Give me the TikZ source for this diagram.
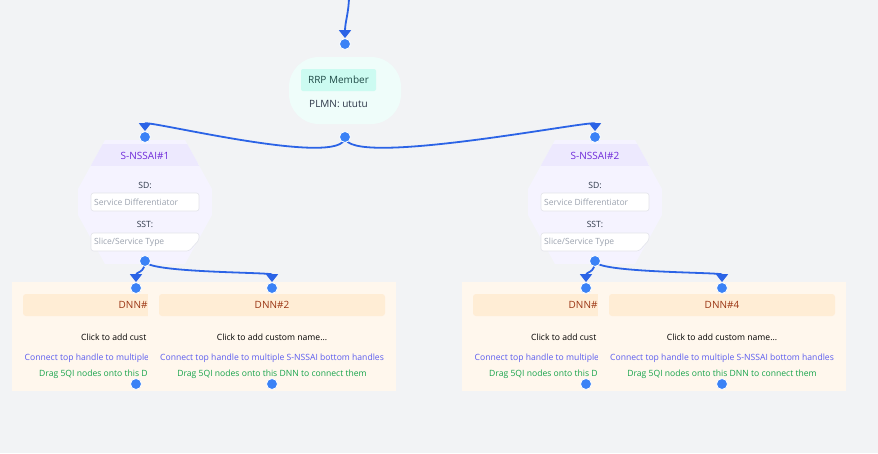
\documentclass[tikz,border=0pt]{standalone}
\usepackage{fontspec}
\setmainfont{Open Sans}
\usetikzlibrary{arrows.meta}

\definecolor{canvas}{HTML}{F2F3F5}
\definecolor{edgeblue}{HTML}{2B63E6}
\definecolor{handleblue}{HTML}{3B82F6}
\definecolor{rrpbg}{HTML}{EFFDFA}
\definecolor{rrplabel}{HTML}{CCFBF1}
\definecolor{rrptext}{HTML}{1E4A46}
\definecolor{darktext}{HTML}{2D3748}
\definecolor{snbody}{HTML}{F5F3FF}
\definecolor{snband}{HTML}{EDE9FE}
\definecolor{sntitle}{HTML}{6D28D9}
\definecolor{fieldline}{HTML}{E3E5EA}
\definecolor{hinttext}{HTML}{9CA3AF}
\definecolor{dnnbg}{HTML}{FFF7ED}
\definecolor{dnnband}{HTML}{FFEDD5}
\definecolor{dnntitle}{HTML}{9A3412}
\definecolor{connecttext}{HTML}{5B5CEF}
\definecolor{dragtext}{HTML}{16A34A}

\begin{document}
\begin{tikzpicture}[x=1pt,y=-1pt,
    edge/.style={draw=edgeblue,line width=1.8pt,-{Triangle[width=12pt,length=8pt]}},
    handle/.style={circle,fill=handleblue,draw=white,line width=0.8pt,minimum size=11pt,inner sep=0pt},
    title/.style={font=\fontsize{10}{12}\selectfont,inner sep=0pt},
    small/.style={font=\fontsize{8.6}{10}\selectfont,inner sep=0pt},
    hint/.style={font=\fontsize{8.5}{10}\selectfont,inner sep=0pt,anchor=west,text=hinttext},
    field/.style={draw=fieldline,fill=white,line width=0.6pt,rounded corners=2.5pt}]
	\fill[canvas] (0,0) rectangle (878,453);
	\useasboundingbox (0,0) rectangle (878,453);
	% RRP member
	\fill[rrpbg,rounded corners=30pt] (289,57) rectangle (401,124);
	\fill[rrplabel,rounded corners=2pt] (301,69) rectangle (376,91);
	\node[title,text=rrptext] (rrp) at (338.5,80) {RRP Member};
	\node[title,text=darktext] (plmn) at (338.5,104) {PLMN: ututu};
	% S-NSSAI#1
	\begin{scope}
		\clip (105,140) -- (185,140) -- (212,189) -- (212,215) -- (185,264) -- (105,264) -- (78,215) -- (78,189) -- cycle;
		\fill[snbody] (78,140) rectangle (212,264);
		\fill[snband] (91,144) rectangle (199,166);
	\end{scope}
	\node[title,text=sntitle] (sn1) at (145,155.5) {S-NSSAI\#1};
	\node[small,text=darktext] (sn1-sd) at (145,185) {SD:};
	\draw[field] (91,193) rectangle (199,211);
	\node[hint] (sn1-sdhint) at (94,202) {Service Differentiator};
	\node[small,text=darktext] (sn1-sst) at (145,224) {SST:};
	\draw[field] (91,233) -- (199,233) -- (199,240) -- (189,251) -- (91,251) -- cycle;
	\node[hint] (sn1-ssthint) at (94,242) {Slice/Service Type};
	% S-NSSAI#2
	\begin{scope}
		\clip (555,140) -- (635,140) -- (662,189) -- (662,215) -- (635,264) -- (555,264) -- (528,215) -- (528,189) -- cycle;
		\fill[snbody] (528,140) rectangle (662,264);
		\fill[snband] (541,144) rectangle (649,166);
	\end{scope}
	\node[title,text=sntitle] (sn2) at (595,155.5) {S-NSSAI\#2};
	\node[small,text=darktext] (sn2-sd) at (595,185) {SD:};
	\draw[field] (541,193) rectangle (649,211);
	\node[hint] (sn2-sdhint) at (544,202) {Service Differentiator};
	\node[small,text=darktext] (sn2-sst) at (595,224) {SST:};
	\draw[field] (541,233) -- (649,233) -- (649,240) -- (639,251) -- (541,251) -- cycle;
	\node[hint] (sn2-ssthint) at (544,242) {Slice/Service Type};
	% DNN#1, half hidden under DNN#2
	\fill[dnnbg] (12,282) rectangle (260,391);
	\begin{scope}
		\clip (12,282) rectangle (148,391);
		\fill[dnnband,rounded corners=3pt] (23,294) rectangle (249,316);
		\node[title,text=dnntitle,anchor=west] (dnn1) at (118.5,305) {DNN\#};
		\node[small,text=black,anchor=west] (dnn1-name) at (81,337) {Click to add cust};
		\node[small,text=connecttext,anchor=west] (dnn1-hint) at (24.5,358) {Connect top handle to multiple};
		\node[small,text=dragtext,anchor=west] (dnn1-drag) at (39,374) {Drag 5QI nodes onto this D};
	\end{scope}
	% DNN#2
	\fill[dnnbg] (148,282) rectangle (396,391);
	\fill[dnnband,rounded corners=3pt] (159,294) rectangle (385,316);
	\node[title,text=dnntitle] (dnn2) at (272,305) {DNN\#2};
	\node[small,text=black] (dnn2-name) at (272,337) {Click to add custom name...};
	\node[small,text=connecttext] (dnn2-hint) at (272,358) {Connect top handle to multiple S-NSSAI bottom handles};
	\node[small,text=dragtext] (dnn2-drag) at (272,374) {Drag 5QI nodes onto this DNN to connect them};
	% DNN#3, half hidden under DNN#4
	\fill[dnnbg] (462,282) rectangle (710,391);
	\begin{scope}
		\clip (462,282) rectangle (598,391);
		\fill[dnnband,rounded corners=3pt] (473,294) rectangle (699,316);
		\node[title,text=dnntitle,anchor=west] (dnn3) at (568.5,305) {DNN\#};
		\node[small,text=black,anchor=west] (dnn3-name) at (531,337) {Click to add cust};
		\node[small,text=connecttext,anchor=west] (dnn3-hint) at (474.5,358) {Connect top handle to multiple};
		\node[small,text=dragtext,anchor=west] (dnn3-drag) at (489,374) {Drag 5QI nodes onto this D};
	\end{scope}
	% DNN#4
	\fill[dnnbg] (598,282) rectangle (846,391);
	\fill[dnnband,rounded corners=3pt] (609,294) rectangle (835,316);
	\node[title,text=dnntitle] (dnn4) at (722,305) {DNN\#4};
	\node[small,text=black] (dnn4-name) at (722,337) {Click to add custom name...};
	\node[small,text=connecttext] (dnn4-hint) at (722,358) {Connect top handle to multiple S-NSSAI bottom handles};
	\node[small,text=dragtext] (dnn4-drag) at (722,374) {Drag 5QI nodes onto this DNN to connect them};
	% handles
	\node[handle] (rrp-in) at (345,44) {};
	\node[handle] (rrp-out) at (345,137) {};
	\node[handle] (sn1-in) at (145,137) {};
	\node[handle] (sn1-out) at (145,261) {};
	\node[handle] (sn2-in) at (595,137) {};
	\node[handle] (sn2-out) at (595,261) {};
	\node[handle] (dnn1-in) at (136,288) {};
	\node[handle] (dnn1-out) at (136,384) {};
	\node[handle] (dnn2-in) at (272,288) {};
	\node[handle] (dnn2-out) at (272,384) {};
	\node[handle] (dnn3-in) at (586,288) {};
	\node[handle] (dnn3-out) at (586,384) {};
	\node[handle] (dnn4-in) at (722,288) {};
	\node[handle] (dnn4-out) at (722,384) {};
	\coordinate (feed) at (349,-4);
	% edges
	\draw[edge] (feed) .. controls +(0,16) and +(0,-16) .. (rrp-in.north);
	\draw[edge] (rrp-out.center) .. controls +(0,32) and +(0,-12) .. (sn1-in.north);
	\draw[edge] (rrp-out.center) .. controls +(0,32) and +(0,-12) .. (sn2-in.north);
	\draw[edge] (sn1-out.center) .. controls +(0,12) and +(0,-10) .. (dnn1-in.north);
	\draw[edge] (sn1-out.center) .. controls +(0,12) and +(0,-10) .. (dnn2-in.north);
	\draw[edge] (sn2-out.center) .. controls +(0,12) and +(0,-10) .. (dnn3-in.north);
	\draw[edge] (sn2-out.center) .. controls +(0,12) and +(0,-10) .. (dnn4-in.north);
	% redraw handles over edge ends
	\foreach \h in {rrp-in,rrp-out,sn1-in,sn1-out,sn2-in,sn2-out,dnn1-in,dnn2-in,dnn3-in,dnn4-in}
		\fill[handleblue,draw=white,line width=0.8pt] (\h) circle (5.5pt);
\end{tikzpicture}
\end{document}
